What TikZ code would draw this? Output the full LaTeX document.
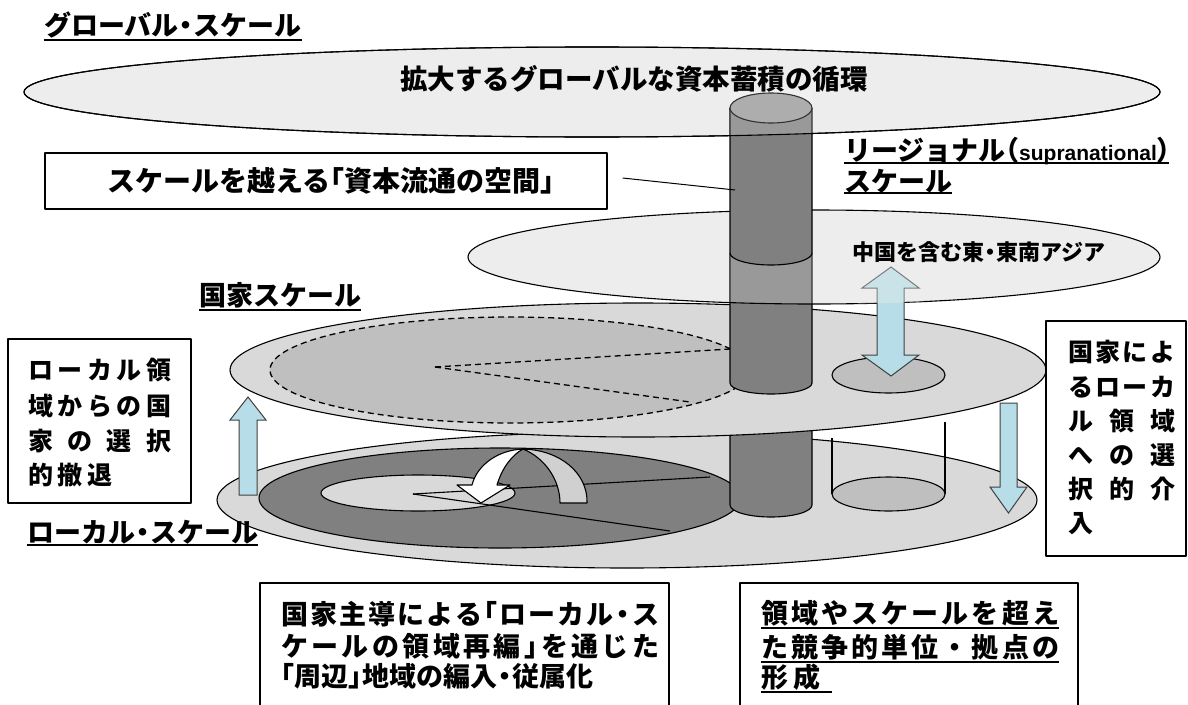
\documentclass[tikz,border=0pt]{standalone}
\usepackage{fontspec}
\newfontfamily\jp{Noto Sans CJK JP}
\newfontfamily\lat{Liberation Sans}
\definecolor{glob}{HTML}{EDEDED}
\definecolor{nat}{HTML}{D9D9D9}
\definecolor{mid}{HTML}{BFBFBF}
\definecolor{dark}{HTML}{808080}
\definecolor{capc}{HTML}{999999}
\definecolor{lblue}{HTML}{B7DEE8}
\definecolor{arrg}{HTML}{D0D0D0}
\newcommand\fs[1]{\fontsize{#1}{#1}\selectfont}
\newcommand\nd{\makebox[0.55em]{・}}
\newcommand\lb{\makebox[0.5em][r]{「}}
\newcommand\rb{\makebox[0.5em][l]{」}}
\makeatletter
\def\spr#1#2{\makebox[#1][s]{\spr@a#2\relax}}
\def\spr@a#1{#1\spr@b}
\def\spr@b#1{\ifx\relax#1\else\hfil#1\expandafter\spr@b\fi}
\makeatother
\tikzset{
  olin/.style={draw=black, line width=1.1pt},
  txt/.style={inner sep=0pt},
  uline/.style={line width=1.6pt},
  bx/.style={draw=black, line width=1.1pt, inner sep=0pt},
  barrow/.style={fill=lblue, draw=black!75, line width=1pt, line join=miter},
  dline/.style={draw=black, line width=1.3pt, dash pattern=on 6pt off 4pt},
  boxtxt/.style={txt, anchor=west, font=\jp\bfseries\fs{25}},
  bottxt/.style={txt, anchor=west, font=\jp\bfseries\fs{27}},
  lab/.style={txt, anchor=west, font=\jp\bfseries\fs{27}},
}
\begin{document}
\begin{tikzpicture}[x=1pt,y=-1pt,line join=round]
\useasboundingbox (0,0) rectangle (1188,704);
\clip (0,0) rectangle (1188,704);

% ---------- global ellipse
\fill[glob] (592,92) ellipse [x radius=568pt, y radius=45pt];
\draw[olin] (592,92) ellipse [x radius=568pt, y radius=45pt];

% ---------- local scale
\filldraw[olin, fill=nat] (627,500) ellipse [x radius=410pt, y radius=68pt];
\filldraw[olin, fill=dark] (500,498) ellipse [x radius=241pt, y radius=50pt];
\filldraw[olin, fill=nat] (418,493) ellipse [x radius=97pt, y radius=18pt];
\coordinate (lc) at (413,494);
\coordinate (lw1) at (710,477);
\coordinate (lw2) at (670,531);
\draw[olin] (lc) -- (lw1);
\draw[olin] (lc) -- (lw2);
% curved arrow
\filldraw[olin, fill=arrg] (523,449) .. controls (560,450) and (588,473) .. (587,503)
   -- (560,503) .. controls (560,480) and (545,458) .. (523,449) -- cycle;
\filldraw[olin, fill=white] (523,449) .. controls (498,450) and (477,465) .. (472,485)
   -- (457,485) -- (481,503) -- (510,485) -- (497,485)
   .. controls (502,468) and (512,455) .. (523,449) -- cycle;
% small open cylinder
\draw[olin] (832,494) -- (832,438);
\draw[olin] (945,494) -- (945,422);
\filldraw[olin, fill=mid] (888.5,494) ellipse [x radius=56.5pt, y radius=17pt];
% lower column
\fill[dark] (730,430) -- (730,505) arc [start angle=180, end angle=360, x radius=41pt, y radius=12pt] -- (812,430) -- cycle;
\draw[olin] (730,430) -- (730,505) arc [start angle=180, end angle=360, x radius=41pt, y radius=12pt] -- (812,430);

% ---------- national scale
\filldraw[olin, fill=nat] (638,370) ellipse [x radius=408pt, y radius=67pt];
\filldraw[dline, fill=mid] (510,370) ellipse [x radius=240pt, y radius=53pt];
\coordinate (nc) at (435,367);
\coordinate (nw1) at (730,349);
\coordinate (nw2) at (690,402);
\draw[dline] (nc) -- (nw1);
\draw[dline] (nc) -- (nw2);
\filldraw[olin, fill=mid] (888.5,375) ellipse [x radius=56.5pt, y radius=18pt];
% arrows between national and local
\filldraw[barrow] (1000,403) -- (1017,403) -- (1017,487) -- (1027,487) -- (1008.5,513) -- (990,487) -- (1000,487) -- cycle;
\filldraw[barrow] (239,495) -- (239,420) -- (230,420) -- (248,397) -- (266,420) -- (257,420) -- (257,495) -- cycle;

% ---------- regional
\fill[glob] (814,257) ellipse [x radius=346pt, y radius=47pt];
\fill[dark] (730,253) -- (730,383) arc [start angle=180, end angle=360, x radius=41pt, y radius=11pt] -- (812,253) -- cycle;
\draw[olin] (730,253) -- (730,383) arc [start angle=180, end angle=360, x radius=41pt, y radius=11pt] -- (812,253);
\begin{scope}
  \clip (814,257) ellipse [x radius=346pt, y radius=47pt];
  \fill[white, opacity=0.2] (729.5,253) rectangle (812.5,400);
\end{scope}
\draw[olin] (814,257) ellipse [x radius=346pt, y radius=47pt];
\filldraw[barrow] (877,288) -- (862,288) -- (891,267) -- (919,288) -- (904,288) -- (904,355)
   -- (919,355) -- (891,376) -- (862,355) -- (877,355) -- cycle;
\begin{scope}
  \clip (814,257) ellipse [x radius=346pt, y radius=47pt];
  \fill[glob, opacity=0.35] (858,262) rectangle (923,380);
\end{scope}

% ---------- upper column
\fill[dark] (730,108) -- (730,253) arc [start angle=180, end angle=360, x radius=41pt, y radius=12pt] -- (812,108) -- cycle;
\draw[olin] (730,108) -- (730,253) arc [start angle=180, end angle=360, x radius=41pt, y radius=12pt] -- (812,108);
\filldraw[olin, fill=capc] (771,108) ellipse [x radius=41pt, y radius=15pt];
\begin{scope}
  \clip (592,92) ellipse [x radius=568pt, y radius=45pt];
  \fill[white, opacity=0.2] (729.5,90) rectangle (812.5,140);
\end{scope}
\draw[olin] (592,92) ellipse [x radius=568pt, y radius=45pt];

% ---------- labels
\node[lab] (gtitle) at (44,25) {グローバル\nd スケール};
\draw[uline] (gtitle.west |- 0,40) -- (gtitle.east |- 0,40);
\node[txt, font=\jp\bfseries\fs{27.5}] (gtext) at (634,79) {拡大するグローバルな資本蓄積の循環};
\node[bx, minimum width=562pt, minimum height=56pt, font=\jp\bfseries\fs{28}] (capbox) at (326,181) {\hspace*{10pt}スケールを越える\lb 資本流通の空間\rb};
\coordinate (cylpt) at (735,190);
\draw[line width=1pt] ([xshift=15pt,yshift=3pt]capbox.east) -- (cylpt);

\node[lab] (reglab1) at (844,150) {リージョナル\makebox[0.5em][r]{（}\smash{\lat\bfseries\fs{21}supranational}\makebox[0.45em][l]{）}};
\draw[uline] (reglab1.west |- 0,163) -- (reglab1.east |- 0,163);
\node[lab] (reglab2) at (844,181) {スケール};
\draw[uline] (reglab2.west |- 0,193) -- (reglab2.east |- 0,193);
\node[txt, font=\jp\bfseries\fs{22}] (regtext) at (979,252) {中国を含む東\nd 東南アジア};

\node[lab] (natlab) at (199,295) {国家スケール};
\draw[uline] (natlab.west |- 0,310) -- (natlab.east |- 0,310);
\node[lab] (loclab) at (27,532) {ローカル\nd スケール};
\draw[uline] (loclab.west |- 0,545) -- (loclab.east |- 0,545);

% left box
\node[bx, minimum width=183pt, minimum height=164pt] (lbox) at (99.5,421) {};
\node[boxtxt] (l1) at (28,370) {\spr{143pt}{ローカル領}};
\node[boxtxt] (l2) at (28,406) {\spr{143pt}{域からの国}};
\node[boxtxt] (l3) at (28,441) {\spr{143pt}{家の選択}};
\node[boxtxt] (l4) at (28,475) {\spr{84pt}{的撤退}};

% right box
\node[bx, minimum width=140pt, minimum height=235pt] (rbox) at (1116,438.5) {};
\node[boxtxt] (r1) at (1068,352) {\spr{107pt}{国家によ}};
\node[boxtxt] (r2) at (1068,387) {\spr{107pt}{るローカ}};
\node[boxtxt] (r3) at (1068,421) {\spr{107pt}{ル領域}};
\node[boxtxt] (r4) at (1068,455) {\spr{107pt}{への選}};
\node[boxtxt] (r5) at (1068,489) {\spr{107pt}{択的介}};
\node[boxtxt] (r6) at (1068,524) {入};

% bottom box 1
\node[bx, minimum width=409pt, minimum height=140pt] (b1) at (464.5,653) {};
\node[bottxt] (b1l1) at (281,614) {\spr{378pt}{国家主導による\lb ローカル\nd ス}};
\node[bottxt] (b1l2) at (281,646) {\spr{378pt}{ケールの領域再編\rb を通じた}};
\node[bottxt] (b1l3) at (281,676) {\lb 周辺\rb 地域の編入\nd 従属化};

% bottom box 2
\node[bx, minimum width=338pt, minimum height=140pt] (b2) at (909,653) {};
\node[bottxt] (b2l1) at (761,613) {\spr{298pt}{領域やスケールを超え}};
\draw[uline] (b2l1.west |- 0,628) -- (b2l1.east |- 0,628);
\node[bottxt] (b2l2) at (761,647) {\spr{298pt}{た競争的単位・拠点の}};
\draw[uline] (b2l2.west |- 0,662) -- (b2l2.east |- 0,662);
\node[bottxt] (b2l3) at (761,677) {\spr{59pt}{形成}};
\draw[uline] (b2l3.west |- 0,692) -- ([xshift=12pt]b2l3.east |- 0,692);
\end{tikzpicture}
\end{document}
